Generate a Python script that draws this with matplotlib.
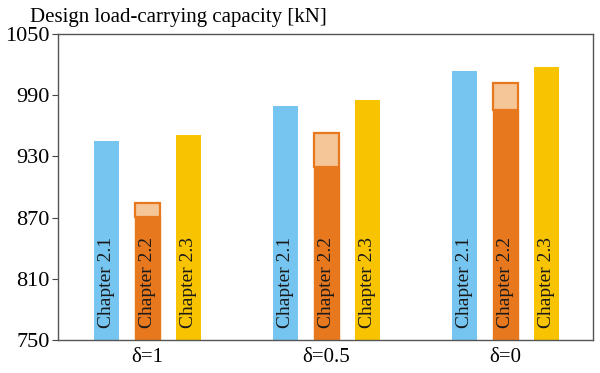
import numpy as np
import matplotlib.pyplot as plt

groups = ["δ=1", "δ=0.5", "δ=0"]
chapters = ["Chapter 2.1", "Chapter 2.2", "Chapter 2.3"]
ch21 = [945, 979, 1014]
ch22_low = [871, 920, 975]
ch22_high = [884, 953, 1002]
ch23 = [951, 985, 1018]
yticks = [750, 810, 870, 930, 990, 1050]

blue = "#76C5F0"
orange = "#E8781E"
yellow = "#F8C300"
peach = "#F5C697"
base = 750

plt.rcParams["font.family"] = ["Liberation Serif", "DejaVu Serif"]

fig = plt.figure(figsize=(6, 3.73), dpi=100)
ax = fig.add_axes([0.0967, 0.0885, 0.8913, 0.8205])

x = np.arange(len(groups))
w = 0.14
off = 0.23

ax.bar(x - off, np.array(ch21) - base, w, bottom=base, color=blue)
ax.bar(x, np.array(ch22_low) - base, w, bottom=base, color=orange,
       edgecolor=orange, linewidth=1.0)
ax.bar(x, np.array(ch22_high) - np.array(ch22_low), w, bottom=ch22_low,
       color=peach, edgecolor=orange, linewidth=1.6)
ax.bar(x + off, np.array(ch23) - base, w, bottom=base, color=yellow)

for i in range(len(groups)):
    for j, name in enumerate(chapters):
        ax.text(x[i] + (j - 1) * off, 762, name, rotation=90, ha="center",
                va="bottom", fontsize=14, color="#1a1a1a")

ax.set_xlim(-0.5, 2.49)
ax.set_ylim(750, 1050)
ax.set_yticks(yticks)
ax.set_xticks(x)
ax.set_xticklabels(groups)
ax.tick_params(axis="y", labelsize=16, length=4, width=0.8, color="#444444", pad=2)
ax.tick_params(axis="x", labelsize=15, length=0, pad=6)
for s in ax.spines.values():
    s.set_color("#555555")
    s.set_linewidth(1.0)

fig.text(0.05, 1 - 22 / 373, "Design load-carrying capacity [kN]",
         fontsize=15, va="baseline", ha="left")

fig.savefig("out.png", dpi=100)
